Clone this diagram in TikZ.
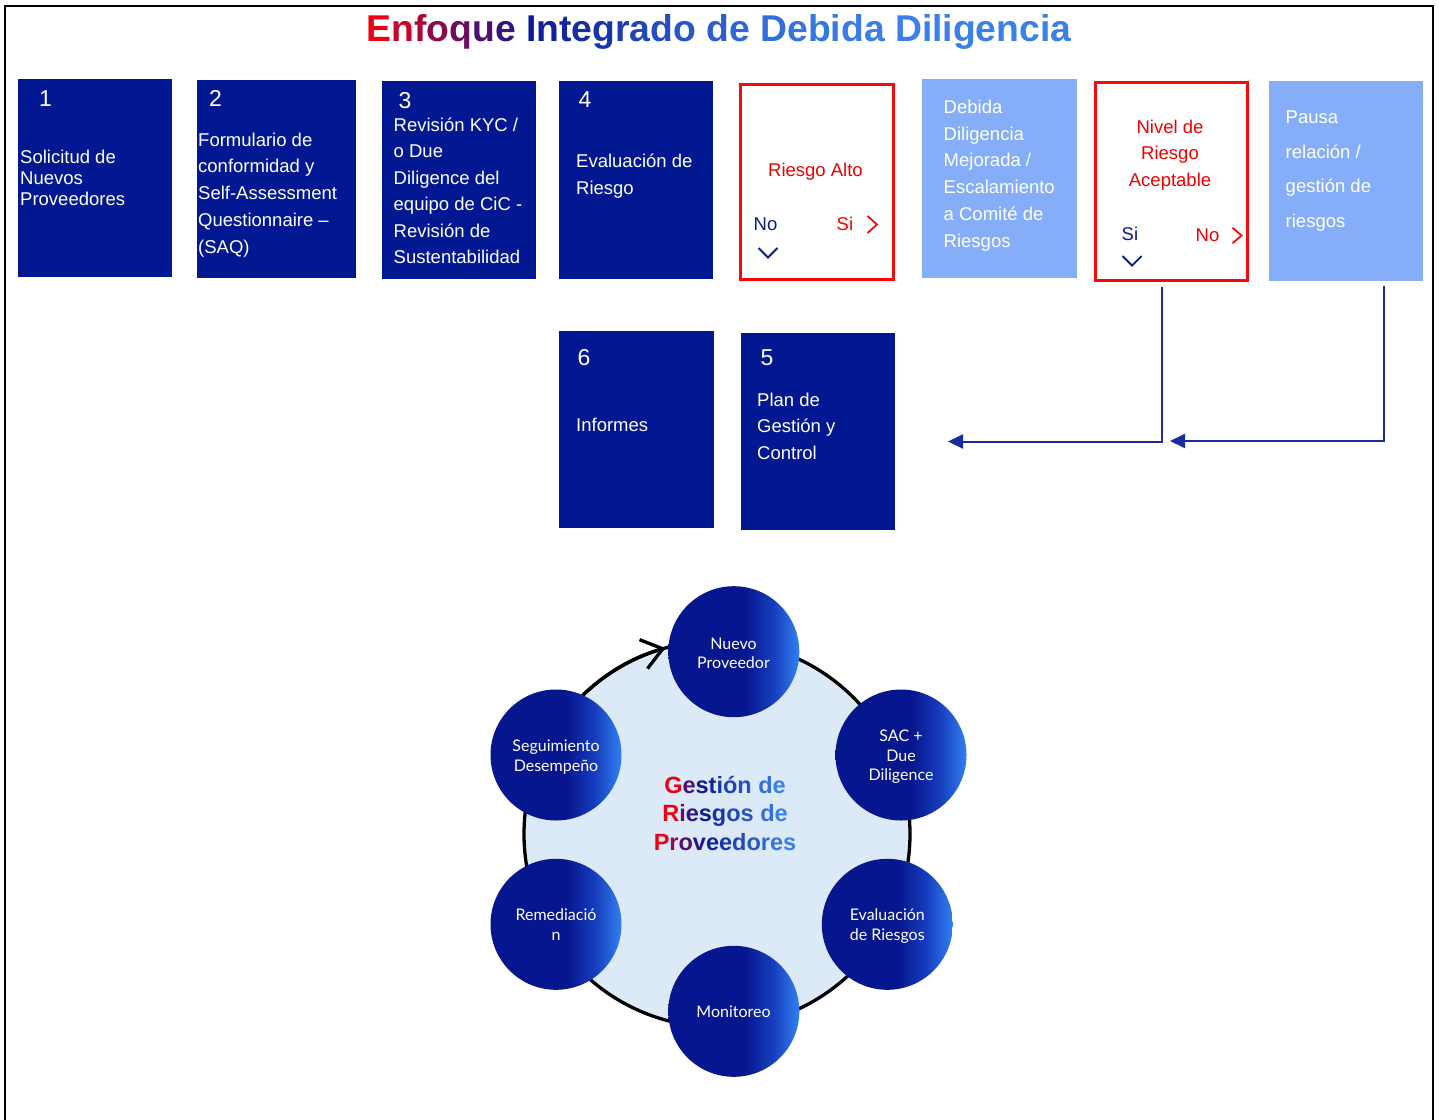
\documentclass[tikz,border=0pt]{standalone}
\usepackage{fontspec}
\setmainfont{Liberation Sans}
\newfontfamily\latof{Lato}
\usetikzlibrary{arrows.meta,calc}
\definecolor{boxnavy}{RGB}{2,24,146}
\definecolor{boxlight}{RGB}{134,174,248}
\definecolor{rred}{RGB}{250,8,8}
\definecolor{txtred}{RGB}{238,0,0}
\definecolor{txtnavy}{RGB}{10,26,140}
\definecolor{conncol}{RGB}{28,42,160}
\definecolor{ringfill}{RGB}{220,233,247}
\definecolor{ballA}{RGB}{6,22,142}
\definecolor{ballB}{RGB}{22,62,190}
\definecolor{ballC}{RGB}{50,128,242}
\definecolor{redT}{RGB}{236,0,20}
\definecolor{navyT}{RGB}{12,24,150}
\definecolor{lightT}{RGB}{58,128,232}
\pgfdeclarehorizontalshading{ballsh}{100bp}{color(0bp)=(ballA); color(54bp)=(ballA); color(65bp)=(ballB); color(75bp)=(ballC); color(100bp)=(ballC)}
\newcommand\gc[2]{{\ifnum#1<51 \edef\gctmp{navyT!\the\numexpr 2*#1\relax!redT}\else\edef\gctmp{lightT!\the\numexpr 2*#1-100\relax!navyT}\fi\color{\gctmp}#2}}
\begin{document}
\begin{tikzpicture}[x=1pt,y=-1pt,
  nbox/.style={rectangle, fill=boxnavy, draw=none, inner sep=0pt, anchor=north west},
  lbox/.style={rectangle, fill=boxlight, draw=none, inner sep=0pt, anchor=north west},
  rbox/.style={rectangle, draw=rred, line width=3pt, fill=white, inner sep=0pt, anchor=north west},
  btxt/.style={font=\fontsize{18.5}{#1}\selectfont, text=white, anchor=north west, inner sep=0pt, align=left, yshift=0.7*#1pt},
  ltxt/.style={font=\fontsize{18.5}{22}\selectfont, inner sep=0pt, anchor=base west},
  numtxt/.style={font=\fontsize{23}{26}\selectfont, text=white, anchor=base west, inner sep=0pt},
  chev/.style={line width=1.8pt},
  conn/.style={draw=conncol, line width=2pt, -{Triangle[length=15pt,width=14pt]}},
  ringline/.style={line width=3.3pt, draw=black},
  ball/.style={circle, minimum size=131pt, inner sep=0pt, draw=none, shading=ballsh, shading angle=0},
  ctext/.style={font=\latof\fontsize{16}{19.5}\selectfont, text=white, align=center, anchor=north, inner sep=0pt, yshift=13.65pt},
  ctextone/.style={font=\latof\fontsize{16}{19.5}\selectfont, text=white, anchor=base, inner sep=0pt}
]
\useasboundingbox (0,0) rectangle (1439,1119);
\fill[white] (0,0) rectangle (1439,1119);
\draw[line width=2pt] (5,1130) -- (5,5.5) -- (1433,5.5) -- (1433,1130);

% title
\node[font=\bfseries\fontsize{37.3}{40}\selectfont, anchor=base, inner sep=0pt] (title) at (719,41) {\gc{0}{E}\gc{8}{n}\gc{15}{f}\gc{22}{o}\gc{29}{q}\gc{35}{u}\gc{41}{e} \gc{50}{I}\gc{54}{n}\gc{57}{t}\gc{60}{e}\gc{64}{g}\gc{68}{r}\gc{72}{a}\gc{76}{d}\gc{80}{o} \gc{84}{d}\gc{88}{e} \gc{92}{D}\gc{94}{e}\gc{96}{b}\gc{97}{i}\gc{98}{d}\gc{100}{a} \gc{100}{Diligencia}};

% top row
\node[nbox, minimum width=154pt, minimum height=198.4pt] (b1) at (18,78.3) {};
\node[numtxt] (n1) at (39,106.7) {1};
\node[btxt=21.3] (t1) at (20,163) {\strut Solicitud de\\Nuevos\\Proveedores};

\node[nbox, minimum width=159pt, minimum height=197.7pt] (b2) at (197,80) {};
\node[numtxt] (n2) at (209,106.7) {2};
\node[btxt=26.7] (t2) at (198,146) {\strut Formulario de\\conformidad y\\Self-Assessment\\Questionnaire –\\(SAQ)};

\node[nbox, minimum width=154pt, minimum height=197.7pt] (b3) at (382,81) {};
\node[numtxt] (n3) at (398.5,108.3) {3};
\node[btxt=26.5] (t3) at (393.5,131) {\strut Revisión KYC /\\o Due\\Diligence del\\equipo de CiC -\\Revisión de\\Sustentabilidad};

\node[nbox, minimum width=154pt, minimum height=197.7pt] (b4) at (559,81) {};
\node[numtxt] (n4) at (578.5,107.7) {4};
\node[btxt=26.6] (t4) at (576,167.7) {\strut Evaluación de\\Riesgo};

\node[rbox, minimum width=153pt, minimum height=194.5pt] (r1) at (739,83) {};
\node[ltxt, text=txtred, anchor=base] (ra) at (815.5,176.7) {Riesgo Alto};
\node[ltxt, text=txtnavy] (rano) at (753.5,230) {No};
\node[ltxt, text=txtred] (rasi) at (836.5,230) {Si};
\draw[chev, draw=rred] (867.5,216) -- (877,224.5) -- (867.5,233);
\draw[chev, draw=txtnavy] (758.5,248) -- (768,257.5) -- (777.5,248);

\node[lbox, minimum width=155pt, minimum height=199pt] (d1) at (922,78.3) {};
\node[btxt=26.7] (dt) at (943.5,113.3) {\strut Debida\\Diligencia\\Mejorada /\\Escalamiento\\a Comité de\\Riesgos};

\node[rbox, minimum width=152.5pt, minimum height=198pt] (r2) at (1093.5,80.5) {};
\node[btxt=26.3, text=txtred, align=center, anchor=north] (nv) at (1170,133.3) {\strut Nivel de\\Riesgo\\Aceptable};
\node[ltxt, text=txtnavy] (nvsi) at (1121.5,240) {Si};
\node[ltxt, text=txtred] (nvno) at (1195.5,241.7) {No};
\draw[chev, draw=rred] (1232.5,227.7) -- (1241.5,235.5) -- (1232.5,243.3);
\draw[chev, draw=txtnavy] (1122.5,256) -- (1132,265.5) -- (1141.5,256);

\node[lbox, minimum width=154pt, minimum height=199.7pt] (p1) at (1269,81) {};
\node[btxt=34.5] (pt) at (1285.5,123.3) {\strut Pausa\\relación /\\gestión de\\riesgos};

% second row
\node[nbox, minimum width=155pt, minimum height=197pt] (b6) at (559,331) {};
\node[numtxt] (n6) at (577.5,365) {6};
\node[ltxt, text=white] (t6) at (576,431) {Informes};

\node[nbox, minimum width=154pt, minimum height=196.7pt] (b5) at (740.5,333) {};
\node[numtxt] (n5) at (760.5,365) {5};
\node[btxt=26.5] (t5) at (757,406) {\strut Plan de\\Gestión y\\Control};

% connectors
\coordinate (a1s) at (1162,287);
\coordinate (a1e) at (948,441.5);
\coordinate (a2s) at (1384,286);
\coordinate (a2e) at (1170,441);
\draw[conn] (a1s) |- (a1e);
\draw[conn] (a2s) |- (a2e);

% cycle
\coordinate (C) at (717,834);
\draw[ringline, fill=ringfill] (C) circle[radius=193];
\draw[ringline, -{Straight Barb[length=20pt,width=30pt]}] ([shift={(-145:193)}]C) arc[start angle=-145, end angle=-105.5, radius=193];

\node[ball] (c1) at (733.8,651.7) {};
\node[ball] (c2) at (901,755) {};
\node[ball] (c3) at (887.3,924.3) {};
\node[ball] (c4) at (733.8,1011.3) {};
\node[ball] (c5) at (556,924.3) {};
\node[ball] (c6) at (556,755) {};

\node[ctext] (l1) at (733.5,649) {\strut Nuevo\\Proveedor};
\node[ctext] (l2) at (901,741.7) {\strut SAC +\\Due\\Diligence};
\node[ctext] (l3) at (887.3,920.7) {\strut Evaluación\\de Riesgos};
\node[ctextone] (l4) at (733.5,1017.7) {Monitoreo};
\node[ctext] (l5) at (556,920.7) {\strut Remediació\\n};
\node[ctext] (l6) at (556,751.7) {\strut Seguimiento\\Desempeño};

\node[font=\bfseries\fontsize{23.5}{28.7}\selectfont, align=center, anchor=north, inner sep=0pt, yshift=20.09pt] (ctr) at (725,793) {\strut \gc{0}{G}\gc{35}{e}\gc{48}{s}\gc{55}{t}\gc{62}{i}\gc{70}{ó}\gc{77}{n} \gc{92}{d}\gc{100}{e}\\\gc{0}{R}\gc{30}{i}\gc{42}{e}\gc{52}{s}\gc{62}{g}\gc{72}{o}\gc{80}{s} \gc{92}{d}\gc{100}{e}\\\gc{0}{P}\gc{20}{r}\gc{33}{o}\gc{45}{v}\gc{55}{e}\gc{63}{e}\gc{72}{d}\gc{80}{o}\gc{87}{r}\gc{94}{e}\gc{100}{s}};
\end{tikzpicture}
\end{document}
